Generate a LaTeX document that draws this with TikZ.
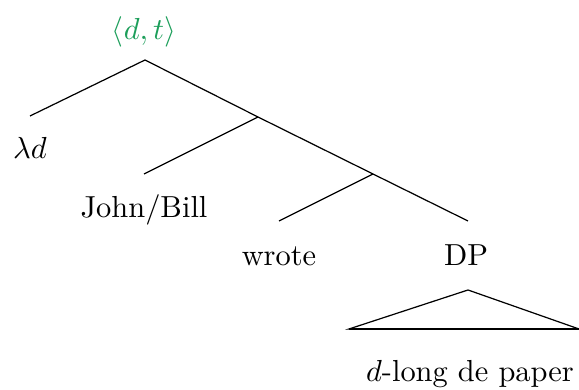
\documentclass[tikz,border=0pt]{standalone}
\definecolor{labgreen}{RGB}{28,158,90}
\begin{document}
\begin{tikzpicture}[x=0.3286pt,y=-0.3286pt,
  lab/.style={anchor=base,inner sep=0pt,font=\fontsize{10}{12}\selectfont},
  edge/.style={line width=0.4pt}]
\useasboundingbox (0,0) rectangle (579,390);
% labels
\node[lab,text=labgreen] (root) at (144,40) {$\langle d,t\rangle$};
\node[lab] (ld) at (30,159) {$\lambda d$};
\node[lab] (jb) at (144,218) {John/Bill};
\node[lab] (wr) at (279,266) {wrote};
\node[lab] (dp) at (466,266) {DP};
\node[lab] (dl) at (470,382) {$d$-long de paper};
% branching points
\coordinate (n0) at (145,60);
\coordinate (n1) at (258,117);
\coordinate (n2) at (373,174);
\coordinate (eld) at (30,116);
\coordinate (ejb) at (144,174);
\coordinate (ewr) at (279,221);
\coordinate (edp) at (468,221);
\coordinate (ta) at (468,290);
\coordinate (tl) at (349,329);
\coordinate (tr) at (579,329);
\draw[edge] (eld) -- (n0) -- (n1) -- (n2) -- (edp);
\draw[edge] (n1) -- (ejb);
\draw[edge] (n2) -- (ewr);
\draw[edge] (tl) -- (ta) -- (tr) -- cycle;
\draw[edge] (tl) -- (tr);
\end{tikzpicture}
\end{document}
